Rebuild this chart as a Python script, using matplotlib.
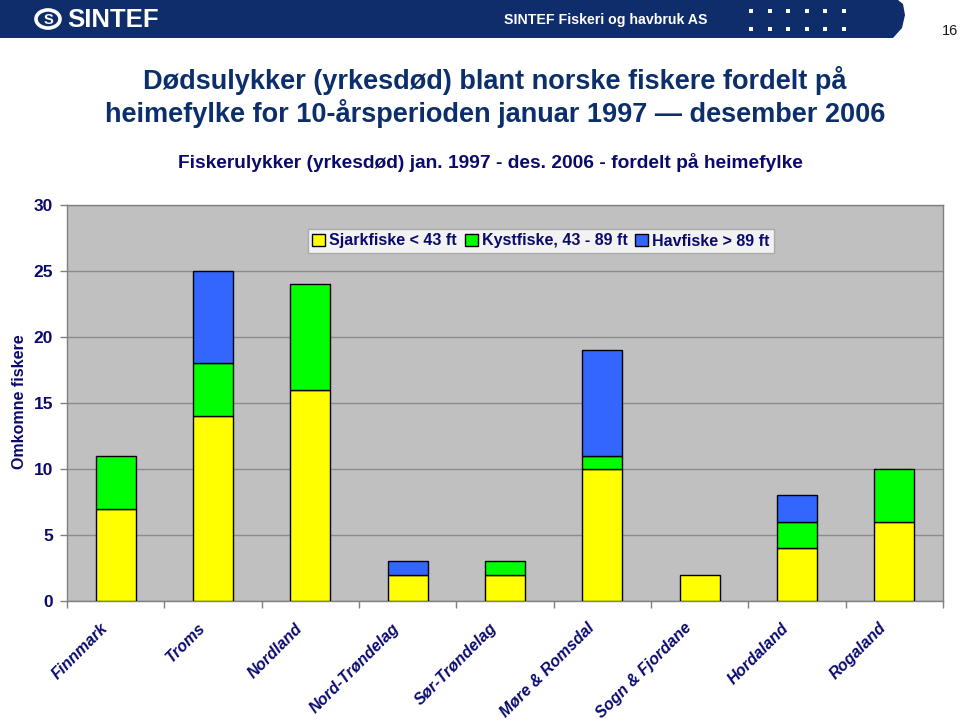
import matplotlib
matplotlib.use("Agg")
import matplotlib.pyplot as plt
import matplotlib.patches as mpatches
import matplotlib.transforms as mtransforms
import numpy as np

plt.rcParams['font.family'] = ['Liberation Sans', 'DejaVu Sans']

categories = ["Finnmark", "Troms", "Nordland", "Nord-Trøndelag", "Sør-Trøndelag",
              "Møre & Romsdal", "Sogn & Fjordane", "Hordaland", "Rogaland"]
sjark = [7, 14, 16, 2, 2, 10, 2, 4, 6]
kyst = [4, 4, 8, 0, 1, 1, 0, 2, 4]
hav = [0, 7, 0, 1, 0, 8, 0, 2, 0]
series_names = ["Sjarkfiske < 43 ft", "Kystfiske, 43 - 89 ft", "Havfiske > 89 ft"]
series_colors = ["#FFFF00", "#00FF00", "#3366FF"]
yticks = [0, 5, 10, 15, 20, 25, 30]

title = "Dødsulykker (yrkesdød) blant norske fiskere fordelt på\nheimefylke for 10-årsperioden januar 1997 \u2014 desember 2006"
subtitle = "Fiskerulykker (yrkesdød) jan. 1997 - des. 2006 - fordelt på heimefylke"
ylabel = "Omkomne fiskere"

W, H = 960, 724
fig = plt.figure(figsize=(W / 100, H / 100), dpi=100)
fig.patch.set_facecolor("white")

def fx(px):
    return px / W

def fy(py):
    return 1 - py / H

# Header bar
hdr_col = "#0F2D6B"
hx = [0, 898, 903, 905, 902, 893, 0]
hy = [0, 0, 4, 15, 28, 38, 38]
fig.patches.append(mpatches.Polygon([(fx(a), fy(b)) for a, b in zip(hx, hy)],
                                    closed=True, transform=fig.transFigure,
                                    facecolor=hdr_col, edgecolor="none"))
# logo
fig.patches.append(mpatches.Circle((fx(48), fy(19)), 0.0125, transform=fig.transFigure,
                                   facecolor="none", edgecolor="white", linewidth=2.6))
fig.text(fx(48), fy(19.5), "S", color="white", fontsize=10.5, fontweight="bold",
         ha="center", va="center")
fig.text(fx(67), fy(20), "SINTEF", color="white", fontsize=18.5, fontweight="bold",
         ha="left", va="center")
fig.text(fx(707), fy(20), "SINTEF Fiskeri og havbruk AS", color="white", fontsize=10.2,
         fontweight="bold", ha="right", va="center")
for row in (11, 29):
    for i in range(6):
        xx = 749 + i * 18.5
        fig.patches.append(mpatches.Rectangle((fx(xx), fy(row + 2)), fx(4), 4 / H,
                                              transform=fig.transFigure,
                                              facecolor="white", edgecolor="none"))
fig.text(fx(950), fy(31), "16", color="#1a1a1a", fontsize=10.5, ha="center", va="center")

# Titles
fig.text(fx(495), fy(97), title, color="#0C2F6B", fontsize=19.5, fontweight="bold",
         ha="center", va="center", linespacing=1.2)
fig.text(fx(490), fy(162), subtitle, color="#0A0A6E", fontsize=13.8, fontweight="bold",
         ha="center", va="center")

# Axes
ax = fig.add_axes([fx(67), fy(601), fx(943) - fx(67), (601 - 205) / H])
ax.set_facecolor("#C0C0C0")
x = np.arange(len(categories))
bw = 0.41
ax.bar(x, sjark, bw, color=series_colors[0], edgecolor="black", linewidth=1, zorder=3)
ax.bar(x, kyst, bw, bottom=sjark, color=series_colors[1], edgecolor="black",
       linewidth=1, zorder=3)
bottom2 = [a + b for a, b in zip(sjark, kyst)]
ax.bar(x, hav, bw, bottom=bottom2, color=series_colors[2], edgecolor="black",
       linewidth=1, zorder=3)
for r in ax.patches:
    if r.get_height() == 0:
        r.set_visible(False)

ax.set_xlim(-0.5, len(categories) - 0.5)
ax.set_ylim(0, 30)
ax.set_yticks(yticks)
ax.yaxis.grid(True, color="#8C8C8C", linewidth=1, zorder=1)
ax.set_axisbelow(True)
for s in ax.spines.values():
    s.set_color("#808080")
    s.set_linewidth(1)

navy = "#0A0A6E"
ax.tick_params(axis="y", length=5, width=1, color="#808080", labelsize=12.5,
               labelcolor=navy, pad=5)
for lab in ax.get_yticklabels():
    lab.set_fontweight("bold")

ax.set_xticks(x)
ax.set_xticks(np.arange(-0.5, len(categories) + 0.5, 1), minor=True)
ax.tick_params(axis="x", which="major", length=0, pad=14)
ax.tick_params(axis="x", which="minor", length=5, width=1, color="#808080")
ax.set_xticklabels(categories, rotation=45, ha="right", va="top", fontsize=11.5,
                   fontweight="bold", fontstyle="italic", color=navy)
offset = mtransforms.ScaledTranslation(-5 / 100, 0, fig.dpi_scale_trans)
for lab in ax.get_xticklabels():
    lab.set_transform(lab.get_transform() + offset)

fig.text(fx(20), fy(402), ylabel, rotation=90, color=navy, fontsize=11.5,
         fontweight="bold", ha="center", va="center")

handles = [mpatches.Patch(facecolor=c, edgecolor="black", linewidth=1) for c in series_colors]
leg = ax.legend(handles, series_names, loc="center", bbox_to_anchor=(fx(541), fy(241)),
                bbox_transform=fig.transFigure, ncol=3, frameon=True, fancybox=False,
                fontsize=11.5, handlelength=0.8, handleheight=0.8, handletextpad=0.25,
                columnspacing=0.5, borderpad=0.3, borderaxespad=0)
leg.get_frame().set_edgecolor("#A0A0A0")
leg.get_frame().set_linewidth(1)
for t in leg.get_texts():
    t.set_color(navy)
    t.set_fontweight("bold")

fig.savefig("out.png", dpi=100)
